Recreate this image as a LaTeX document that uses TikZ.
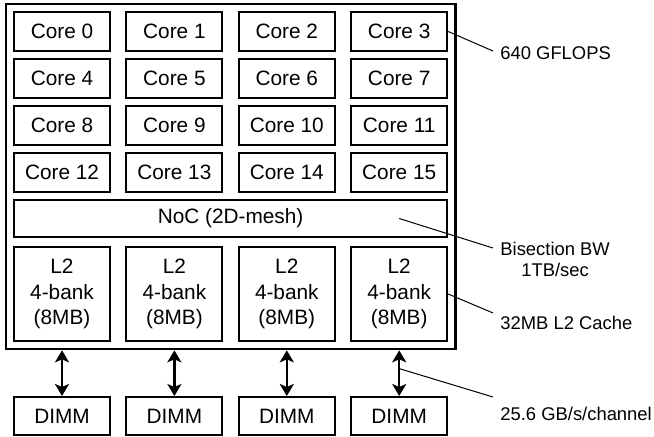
\documentclass[tikz,border=0pt]{standalone}
\usepackage{fontspec}
\setmainfont{Liberation Sans}
\usetikzlibrary{arrows.meta,positioning,fit}
\tikzset{
  box/.style={
    draw=black,
    line width=1pt,
    minimum width=48pt,
    minimum height=19.5pt,
    inner sep=0pt,
    align=center,
    font=\fontsize{10.4}{12.75}\selectfont
  },
  nocbox/.style={box, minimum width=216.6pt, minimum height=18.5pt},
  l2box/.style={box, minimum height=47pt},
  dimmbox/.style={box, minimum height=19pt},
  chipbox/.style={draw=black, line width=1.1pt, inner sep=3.6pt},
  lbl/.style={anchor=west, inner sep=3.5pt, align=center, font=\fontsize{9.2}{10.5}\selectfont},
  leader/.style={draw=black, line width=0.5pt},
  dblarrow/.style={{Stealth[length=6pt,width=7pt,inset=1.5pt]}-{Stealth[length=6pt,width=7pt,inset=1.5pt]}, line width=1.2pt, draw=black}
}
\begin{document}
\begin{tikzpicture}[x=1pt, y=1pt, node distance=3pt and 7.2pt]
    \useasboundingbox (0,0) rectangle (327,-218);
    % cores
    \node[box] (core0) at (31,-15.75) {Core 0};
    \node[box, right=of core0] (core1) {Core 1};
    \node[box, right=of core1] (core2) {Core 2};
    \node[box, right=of core2] (core3) {Core 3};
    \node[box, below=of core0] (core4) {Core 4};
    \node[box, right=of core4] (core5) {Core 5};
    \node[box, right=of core5] (core6) {Core 6};
    \node[box, right=of core6] (core7) {Core 7};
    \node[box, below=of core4] (core8) {Core 8};
    \node[box, right=of core8] (core9) {Core 9};
    \node[box, right=of core9] (core10) {Core 10};
    \node[box, right=of core10] (core11) {Core 11};
    \node[box, below=of core8] (core12) {Core 12};
    \node[box, right=of core12] (core13) {Core 13};
    \node[box, right=of core13] (core14) {Core 14};
    \node[box, right=of core14] (core15) {Core 15};
    % network and caches
    \node[nocbox, below=3pt of core12.south west, anchor=north west] (noc) {NoC (2D-mesh)};
    \node[l2box, below=4pt of noc.south west, anchor=north west] (l2a) {L2\\4-bank\\(8MB)};
    \node[l2box, right=of l2a] (l2b) {L2\\4-bank\\(8MB)};
    \node[l2box, right=of l2b] (l2c) {L2\\4-bank\\(8MB)};
    \node[l2box, right=of l2c] (l2d) {L2\\4-bank\\(8MB)};
    \node[chipbox, fit=(core0)(l2d)] (chip) {};
    % memory
    \node[dimmbox, below=27pt of l2a] (dimma) {DIMM};
    \node[dimmbox, right=of dimma] (dimmb) {DIMM};
    \node[dimmbox, right=of dimmb] (dimmc) {DIMM};
    \node[dimmbox, right=of dimmc] (dimmd) {DIMM};
    \draw[dblarrow] (l2a |- chip.south) -- (dimma);
    \draw[dblarrow] (l2b |- chip.south) -- (dimmb);
    \draw[dblarrow] (l2c |- chip.south) -- (dimmc);
    \draw[dblarrow] (l2d |- chip.south) -- coordinate[pos=0.4] (chan) (dimmd);
    % annotations
    \node[lbl] (gflops) at (246.5,-26.5) {640 GFLOPS};
    \node[lbl] (bw) at (246.5,-129.5) {Bisection BW\\1TB/sec};
    \node[lbl] (cache) at (246.5,-161.5) {32MB L2 Cache};
    \node[lbl] (link) at (246.5,-207) {25.6 GB/s/channel};
    \draw[leader] (core3.east) -- ([yshift=1pt]gflops.west);
    \draw[leader] (core3 |- noc) -- ([yshift=5.5pt]bw.west);
    \draw[leader] (l2d.east) -- ([yshift=5pt]cache.west);
    \draw[leader] (chan) -- ([yshift=8.5pt]link.west);
\end{tikzpicture}
\end{document}
